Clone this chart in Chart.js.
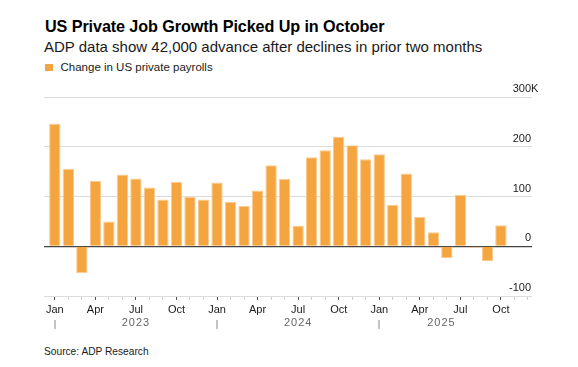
<!DOCTYPE html>
<html>
<head>
<meta charset="utf-8">
<script src="https://cdn.jsdelivr.net/npm/chart.js@4"></script>
<style>
    html, body { margin: 0; padding: 0; background: #fff; }
    body { width: 578px; height: 367px; position: relative; overflow: hidden; font-family: "Liberation Sans", Arial, sans-serif; }
    .txt { position: absolute; white-space: nowrap; }
    #title { left: 45px; top: 18px; font-size: 16.2px; line-height: 16px; font-weight: bold; color: #000; letter-spacing: -0.1px; }
    #subtitle { left: 44px; top: 39px; font-size: 15px; line-height: 15px; color: #1a1a1a; }
    #legend { left: 45px; top: 62px; font-size: 11.5px; line-height: 11.5px; color: #1a1a1a; }
    #legend .box { display: inline-block; width: 7.5px; height: 7.5px; background: #f5a540; margin-right: 8px; position: relative; top: 0px; }
    #source { left: 44px; top: 347px; font-size: 10.2px; line-height: 10px; color: #1a1a1a; }
    #chart { position: absolute; left: 0; top: 0; }
</style>
</head>
<body>
<div class="txt" id="title">US Private Job Growth Picked Up in October</div>
<div class="txt" id="subtitle">ADP data show 42,000 advance after declines in prior two months</div>
<div class="txt" id="legend"><span class="box"></span>Change in US private payrolls</div>
<div class="txt" id="source">Source: ADP Research</div>
<canvas id="chart" width="578" height="367"></canvas>

<script>
// Monthly change in US private payrolls, thousands (Jan 2023 - Oct 2025)
const months = [
    'Jan 2023', 'Feb 2023', 'Mar 2023', 'Apr 2023', 'May 2023', 'Jun 2023',
    'Jul 2023', 'Aug 2023', 'Sep 2023', 'Oct 2023', 'Nov 2023', 'Dec 2023',
    'Jan 2024', 'Feb 2024', 'Mar 2024', 'Apr 2024', 'May 2024', 'Jun 2024',
    'Jul 2024', 'Aug 2024', 'Sep 2024', 'Oct 2024', 'Nov 2024', 'Dec 2024',
    'Jan 2025', 'Feb 2025', 'Mar 2025', 'Apr 2025', 'May 2025', 'Jun 2025',
    'Jul 2025', 'Aug 2025', 'Sep 2025', 'Oct 2025'
];
const payrolls = [
    246, 156, -54, 131, 50, 144, 136, 118, 94, 129, 99, 94,
    128, 89, 81, 112, 163, 135, 41, 179, 193, 220, 203, 175,
    185, 83, 146, 59, 28, -24, 103, -3, -30, 42
];

// month ticks run to the end of 2025
const tickLabels = [
    'Jan', '', '', 'Apr', '', '', 'Jul', '', '', 'Oct', '', '',
    'Jan', '', '', 'Apr', '', '', 'Jul', '', '', 'Oct', '', '',
    'Jan', '', '', 'Apr', '', '', 'Jul', '', '', 'Oct', '', ''
];
const years = ['2023', '2024', '2025'];
const yearStart = [0, 12, 24];
const yearLabelAt = [6, 18, 28.6];
const yTicks = [300, 200, 100, 0, -100];

const orange = '#f5a540';

// Right-side value labels sitting above each gridline
const yLabelsPlugin = {
    id: 'yLabels',
    afterDraw(chart) {
        const ctx = chart.ctx;
        const y = chart.scales.y;
        const right = chart.chartArea.right - 1;
        ctx.save();
        ctx.font = '11px "Liberation Sans", Arial, sans-serif';
        ctx.fillStyle = '#1a1a1a';
        ctx.textBaseline = 'alphabetic';
        yTicks.forEach((v, i) => {
            const py = y.getPixelForValue(v) - 5;
            ctx.textAlign = 'right';
            ctx.fillText(String(v), right, py);
            if (i === 0) {
                ctx.textAlign = 'left';
                ctx.fillText('K', right, py);
            }
        });
        ctx.restore();
    }
};

// Year labels with separators under the month axis
const yearsPlugin = {
    id: 'years',
    afterDraw(chart) {
        const ctx = chart.ctx;
        const x = chart.scales.x;
        ctx.save();
        ctx.strokeStyle = '#c4c4c4';
        ctx.lineWidth = 2;
        yearStart.forEach(v => {
            const px = Math.round(x.getPixelForValue(v));
            ctx.beginPath();
            ctx.moveTo(px, 320);
            ctx.lineTo(px, 329);
            ctx.stroke();
        });
        ctx.font = '11px "Liberation Sans", Arial, sans-serif';
        ctx.letterSpacing = '1px';
        ctx.fillStyle = '#666';
        ctx.textAlign = 'center';
        ctx.textBaseline = 'alphabetic';
        years.forEach((yr, i) => {
            ctx.fillText(yr, x.getPixelForValue(yearLabelAt[i]), 326);
        });
        ctx.restore();
    }
};

const ctx = document.getElementById('chart').getContext('2d');
new Chart(ctx, {
    type: 'bar',
    data: {
        labels: months,
        datasets: [{
            label: 'Change in US private payrolls',
            data: payrolls.map((v, i) => ({ x: i, y: v })),
            backgroundColor: orange,
            borderColor: '#f9cb8e',
            borderWidth: 1,
            borderSkipped: 'start',
            categoryPercentage: 1,
            barPercentage: 0.84
        }]
    },
    options: {
        responsive: false,
        animation: false,
        layout: {
            padding: { left: 44, right: 46, top: 97, bottom: 41 }
        },
        plugins: {
            legend: { display: false },
            tooltip: { enabled: false }
        },
        scales: {
            x: {
                type: 'linear',
                min: -0.8,
                max: 35.3,
                offset: false,
                afterBuildTicks: (scale) => {
                    scale.ticks = tickLabels.map((_, i) => ({ value: i }));
                },
                afterFit: (scale) => { scale.height = 30; },
                border: { display: false },
                grid: {
                    offset: false,
                    drawOnChartArea: false,
                    drawTicks: true,
                    tickLength: 4,
                    tickWidth: 1,
                    tickColor: (c) => (c.index % 3 === 0 ? '#555' : '#cfcfcf')
                },
                ticks: {
                    autoSkip: false,
                    maxRotation: 0,
                    padding: 3,
                    color: '#1a1a1a',
                    font: { family: '"Liberation Sans", Arial, sans-serif', size: 11 },
                    callback: (value, index) => tickLabels[index]
                }
            },
            y: {
                min: -100,
                max: 300,
                afterBuildTicks: (scale) => {
                    scale.ticks = yTicks.map(v => ({ value: v }));
                },
                afterFit: (scale) => { scale.width = 0; },
                border: { display: false },
                grid: {
                    drawTicks: false,
                    lineWidth: (c) => (c.tick && c.tick.value === 0 ? 1.2 : 1),
                    color: (c) => (c.tick && c.tick.value === 0 ? '#444' : '#dcdcdc')
                },
                ticks: { display: false }
            }
        }
    },
    plugins: [yLabelsPlugin, yearsPlugin]
});
</script>
</body>
</html>
